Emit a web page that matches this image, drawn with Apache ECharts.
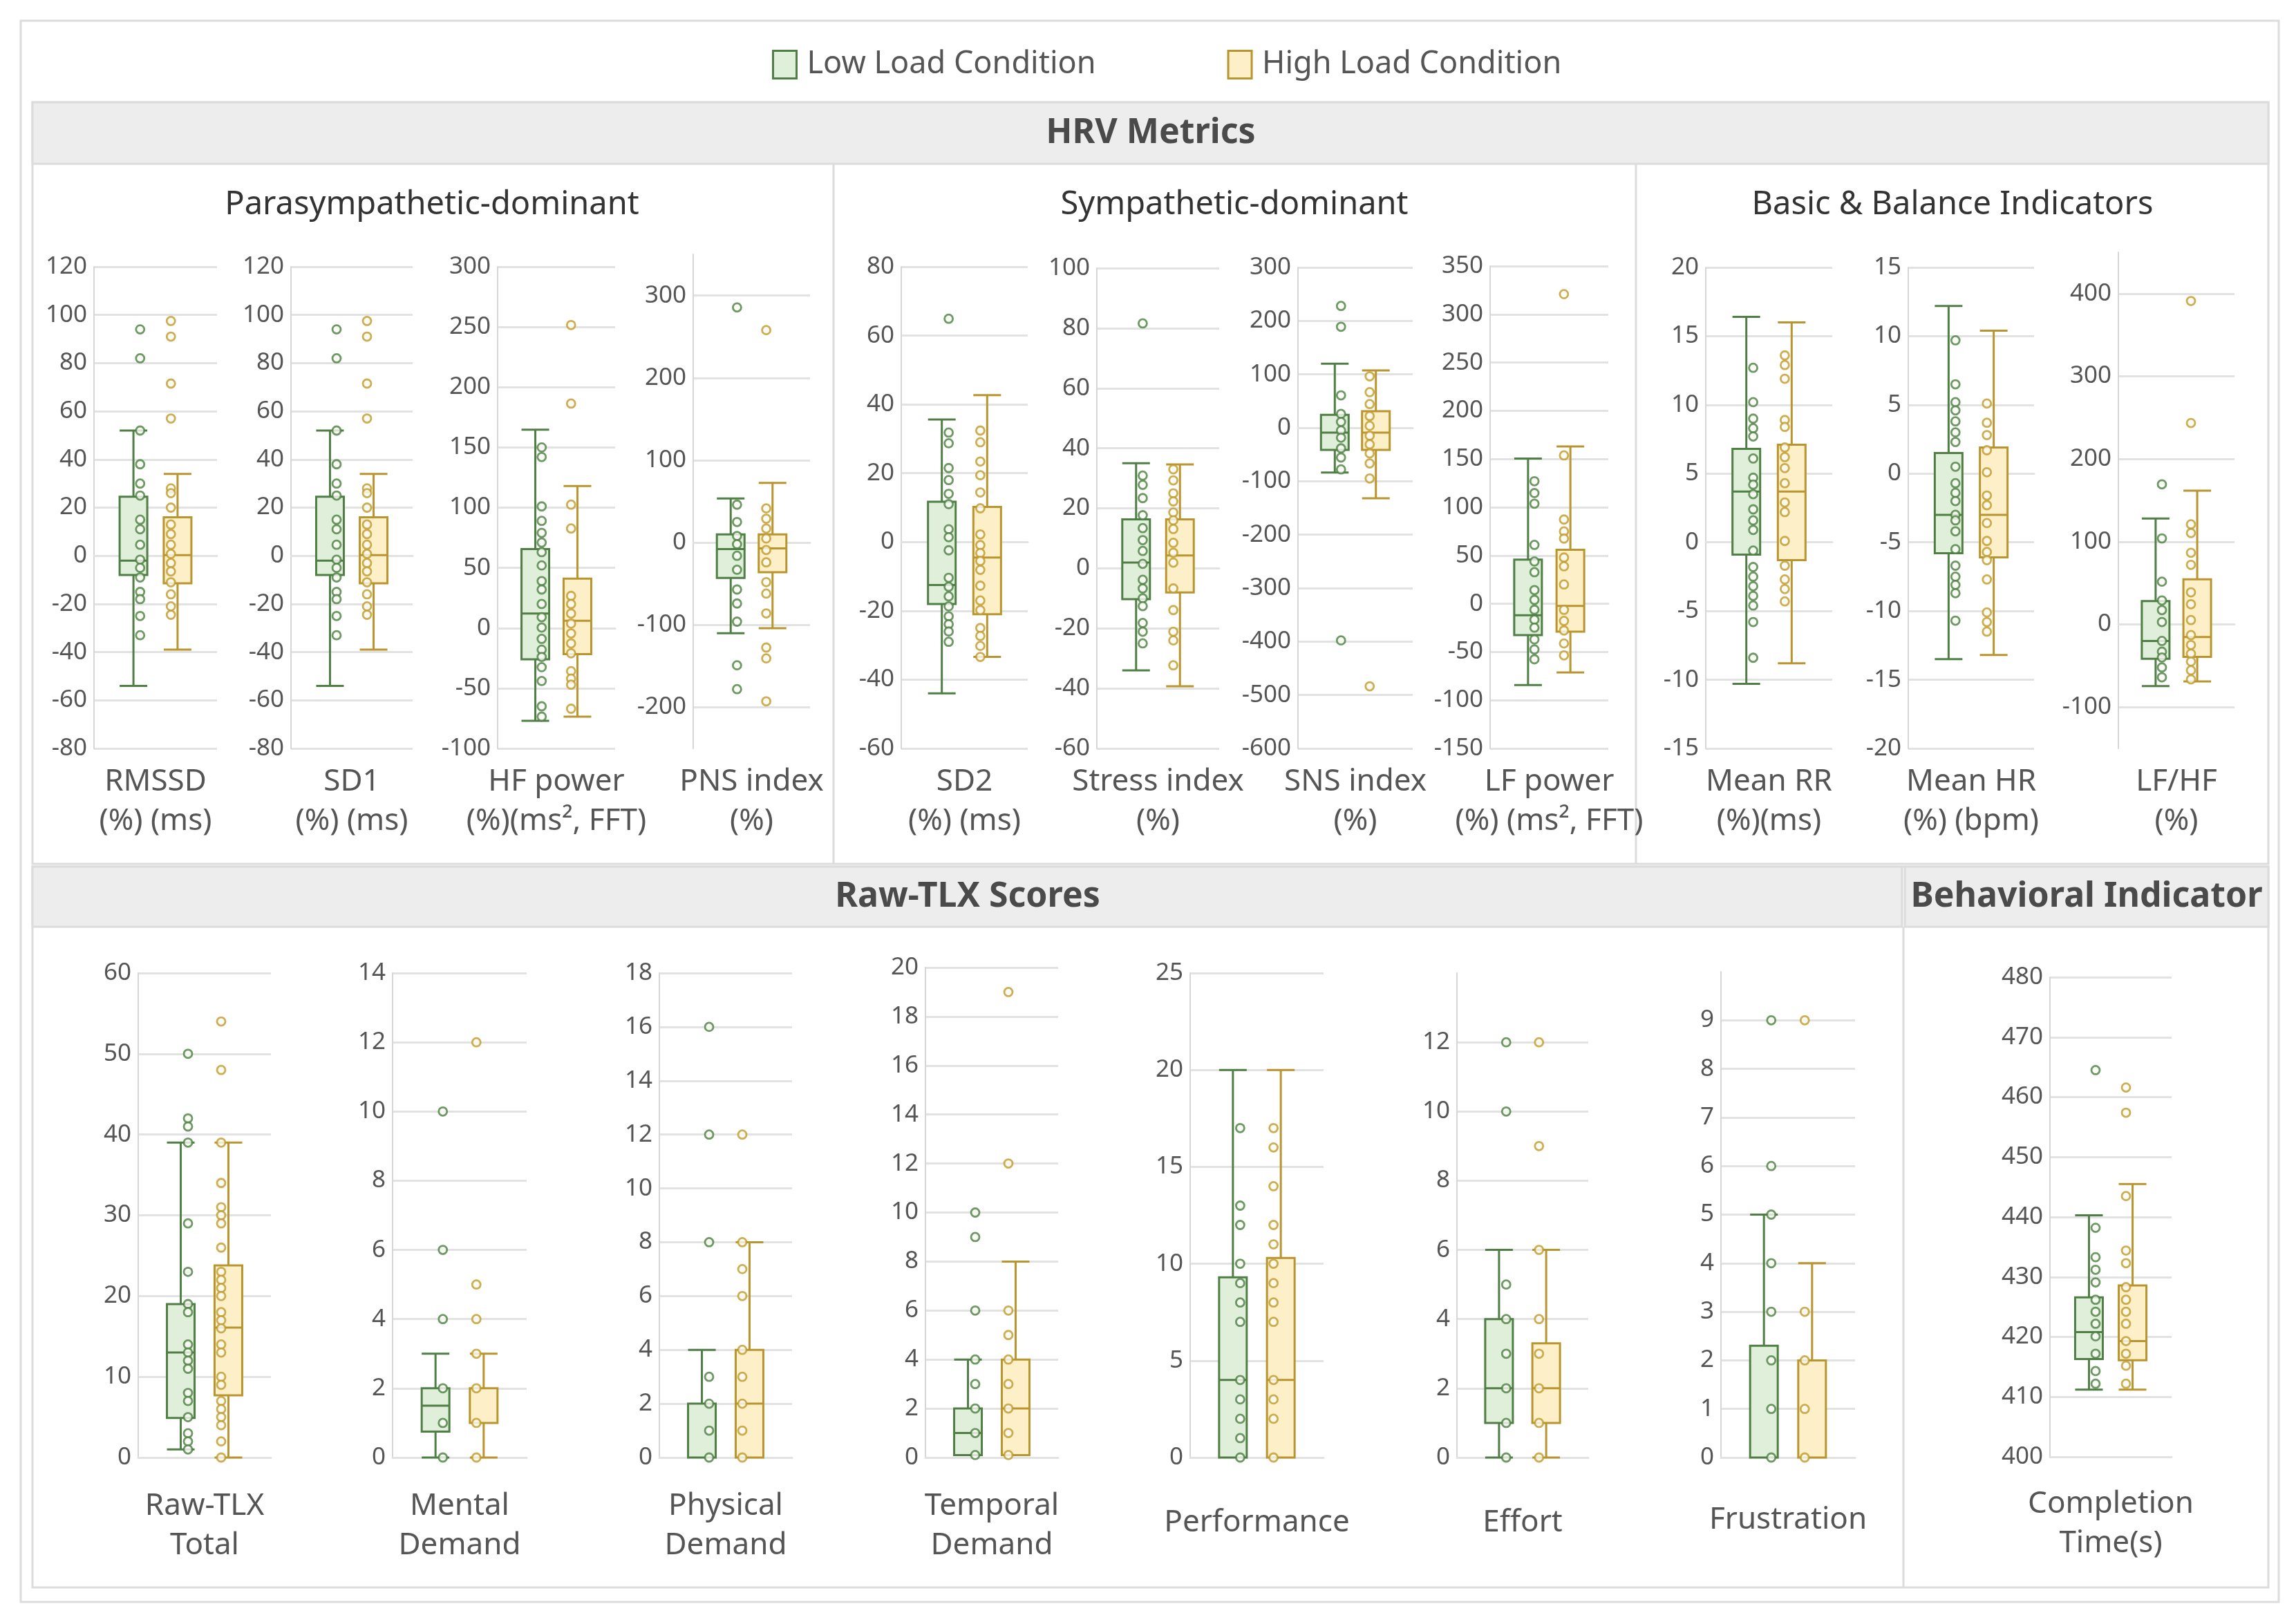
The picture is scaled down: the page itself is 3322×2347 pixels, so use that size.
<!DOCTYPE html>
<html><head><meta charset="utf-8">
<script src="https://cdn.jsdelivr.net/npm/echarts@6/dist/echarts.min.js"></script>
<style>html,body{margin:0;padding:0;background:#fff}#c{width:3322px;height:2347px}</style>
</head><body><div id="c"></div>
<script>
// ---------- DATA ----------
const categories = ['a', 'Low', 'High', 'b'];
const seriesNames = ['Low Load Condition', 'High Load Condition'];
// box stats: [lowWhisker, Q1, median, Q3, highWhisker]
const rmssdLowBox = [-54, -8, -2, 24.5, 52];
const rmssdLowPts = [94, 82, 52, 38, 30, 25, 15, 11, 4.6, -1.6, -5, -9, -15, -18, -25, -33];
const rmssdHighBox = [-39, -11.4, 0.3, 16, 34];
const rmssdHighPts = [97.5, 91, 71.5, 57, 28, 26, 20, 13, 9, 4.6, 0.8, -3, -6.5, -11, -16, -21, -24.5];
const sd1LowBox = [-54, -8, -2, 24.5, 52];
const sd1LowPts = [94, 82, 52, 38, 30, 25, 15, 11, 4.6, -1.6, -5, -9, -15, -18, -25, -33];
const sd1HighBox = [-39, -11.4, 0.3, 16, 34];
const sd1HighPts = [97.5, 91, 71.5, 57, 28, 26, 20, 13, 9, 4.6, 0.8, -3, -6.5, -11, -16, -21, -24.5];
const hfLowBox = [-77, -26, 12, 65.6, 164.7];
const hfLowPts = [150, 142, 101, 89, 79, 71, 63, 52, 39, 32, 20, 9, 0.4, -9, -18, -24, -32.5, -44, -65, -73.6];
const hfHighBox = [-73.6, -21.6, 6, 41, 118];
const hfHighPts = [251.6, 186.4, 102.5, 82.7, 26.7, 20, 12, 3.7, -4.5, -12.8, -21, -35.8, -42, -47, -67];
const pnsLowBox = [-110, -43, -8, 10, 53.6];
const pnsLowPts = [285.5, 46, 25, 8, -2, -16, -33, -57, -74, -96, -149, -178];
const pnsHighBox = [-104, -36, -7, 10, 72.5];
const pnsHighPts = [258, 41.5, 29, 17, 5, -9, -24, -48, -62, -86, -127.5, -140.6, -192.8];
const sd2LowBox = [-44, -18, -12.5, 11.7, 35.6];
const sd2LowPts = [64.9, 31.8, 28.7, 21.5, 18, 14, 11, 3.7, 1.4, -2.4, -10.4, -13, -15.8, -18.7, -21.6, -23.9, -26, -29];
const sd2HighBox = [-33.4, -21, -4.5, 10.2, 42.7];
const sd2HighPts = [32.4, 29, 23.4, 19.4, 14.4, 9.8, 2.2, -0.9, -3.2, -5.5, -8.1, -12.7, -17, -19.8, -25, -27.3, -30.2, -33.4];
const stressLowBox = [-34, -10.3, 1.9, 16.3, 35];
const stressLowPts = [81.6, 30.9, 27.8, 23.4, 17.7, 13.4, 9.4, 5.8, 1.5, -3.8, -6.7, -10, -12.6, -18.2, -21.1, -25];
const stressHighBox = [-39.3, -8, 4.3, 16.3, 34.6];
const stressHighPts = [33, 29.3, 25, 22.3, 18.6, 16, 13.1, 8.5, 5.2, 1.9, -6.7, -13.9, -21.1, -24, -32.3];
const snsLowBox = [-83.7, -41.5, -9, 24.4, 120];
const snsLowPts = [228, 189, 60.7, 26, 11, -5, -18.5, -38.5, -55.6, -77.8, -397.8];
const snsHighBox = [-131.9, -41.5, -9, 31, 107.4];
const snsHighPts = [-483.7, 96.3, 66.7, 44.4, 22, 3.7, -14.8, -31, -48, -66.7, -94.8];
const lfLowBox = [-84.3, -32.6, -12, 45.8, 150.5];
const lfLowPts = [127, 114.7, 103.7, 61, 43.8, 32.7, 14.2, 4, -6.2, -16.5, -24.8, -37, -47.4, -57.6];
const lfHighBox = [-71.2, -28.9, -2.2, 56, 163];
const lfHighPts = [320.9, 153.8, 87.3, 75, 67.6, 47.9, 38.8, 20, -6.3, -17.8, -27.7, -41.2, -53.5];
const rrLowBox = [-10.3, -0.9, 3.7, 6.8, 16.4];
const rrLowPts = [12.7, 10.2, 9, 8.3, 7.7, 6.1, 4.7, 4.2, 3.5, 2.4, 1.6, 0.9, -0.6, -1.8, -2.5, -3.2, -3.9, -4.6, -5.8, -8.4];
const rrHighBox = [-8.8, -1.3, 3.7, 7.1, 16];
const rrHighPts = [13.6, 12.9, 11.9, 8.9, 8.4, 6.9, 6.2, 5.4, 4.3, 2.9, 2.2, 0.1, -1.7, -2.7, -3.4, -4.3];
const hrLowBox = [-13.5, -5.8, -3, 1.5, 12.2];
const hrLowPts = [9.7, 6.5, 5.2, 4.6, 3.8, 3, 2.3, 0.5, -0.7, -1.4, -2, -3, -3.4, -4.2, -5.5, -6.7, -7.5, -8.1, -8.7, -10.7];
const hrHighBox = [-13.2, -6.1, -3, 1.9, 10.4];
const hrHighPts = [5.1, 3.7, 2.8, 1.7, 0.1, -1.6, -2.3, -3.6, -4.9, -5.7, -6.3, -7.7, -10.1, -10.8, -11.5];
const lfhfLowBox = [-74.6, -41.6, -20, 28.2, 128];
const lfhfLowPts = [169.4, 104, 51.7, 29, 17.3, 2.9, -20, -33, -40, -52, -64];
const lfhfHighBox = [-69, -39.2, -15.3, 54.5, 161.7];
const lfhfHighPts = [391, 243.5, 121, 110.5, 86.6, 72, 38.8, 24.4, 5.3, -12.9, -24.9, -35.4, -45, -55.5, -66.5];
const tlxLowBox = [1, 4.9, 13, 19, 39];
const tlxLowPts = [50, 42, 41, 39, 29, 23, 19, 18, 14, 13, 12, 11, 8, 7, 5, 3, 2, 1];
const tlxHighBox = [0, 7.7, 16.1, 23.8, 39];
const tlxHighPts = [54, 48, 39, 34, 31, 30, 29, 26, 23, 22, 21, 20, 18, 17, 16, 14, 13, 10, 9, 7, 6, 5, 4, 2, 0];
const mentalLowBox = [0, 0.75, 1.5, 2, 3];
const mentalLowPts = [10, 6, 4, 2, 1, 0];
const mentalHighBox = [0, 1, 1, 2, 3];
const mentalHighPts = [12, 5, 4, 3, 2, 1, 0];
const physLowBox = [0, 0, 2, 2, 4];
const physLowPts = [16, 12, 8, 3, 2, 1, 0];
const physHighBox = [0, 0, 2, 4, 8];
const physHighPts = [12, 8, 7, 6, 4, 3, 2, 1, 0];
const tempLowBox = [0.1, 0.1, 1, 2, 4];
const tempLowPts = [10, 9, 6, 4, 3, 2, 1, 0.1];
const tempHighBox = [0.1, 0.1, 2, 4, 8];
const tempHighPts = [19, 12, 6, 5, 4, 3, 2, 1, 0.1];
const perfLowBox = [0, 0, 4, 9.3, 20];
const perfLowPts = [17, 13, 12, 10, 9, 8, 7, 4, 3, 2, 1, 0];
const perfHighBox = [0, 0, 4, 10.3, 20];
const perfHighPts = [17, 16, 14, 12, 11, 10, 9, 8, 7, 4, 3, 2, 0];
const effortLowBox = [0, 1, 2, 4, 6];
const effortLowPts = [12, 10, 5, 4, 3, 2, 1, 0];
const effortHighBox = [0, 1, 2, 3.3, 6];
const effortHighPts = [12, 9, 6, 4, 3, 2, 1, 0];
const frusLowBox = [0, 0, 0, 2.3, 5];
const frusLowPts = [9, 6, 5, 4, 3, 2, 1, 0];
const frusHighBox = [0, 0, 0, 2, 4];
const frusHighPts = [9, 3, 2, 1, 0];
const timeLowBox = [411.2, 416.3, 420.8, 426.6, 440.3];
const timeLowPts = [464.5, 438.2, 433.3, 431.2, 429.1, 426.2, 424.2, 422.2, 420.1, 417.2, 414.3, 412.2];
const timeHighBox = [411.2, 416.1, 419.3, 428.6, 445.5];
const timeHighPts = [461.6, 457.4, 443.5, 434.4, 432.3, 428.3, 426.2, 424.2, 422.2, 419.3, 417.2, 415.2, 412.2];

// ---------- LAYOUT ----------
const FONT = '"Noto Sans", "DejaVu Sans", sans-serif';
const GREEN = {fill: '#e0efd9', border: '#4f7f45', pt: '#4a8040'};
const YEL = {fill: '#fdf0c8', border: '#b8952e', pt: '#c09a28'};
const HB = 1083, TB = 2109;
const panels = [
  {name: 'RMSSD\n(%) (ms)', l: 136, r: 314, t: 386, b: HB, min: -80, max: 120, gmin: -80, gmax: 120, iv: 20, d: [rmssdLowBox, rmssdLowPts, rmssdHighBox, rmssdHighPts], gap: 20},
  {name: 'SD1\n(%) (ms)', l: 421, r: 597, t: 386, b: HB, min: -80, max: 120, gmin: -80, gmax: 120, iv: 20, d: [sd1LowBox, sd1LowPts, sd1HighBox, sd1HighPts], gap: 20},
  {name: 'HF power\n(%)(ms², FFT)', l: 720, r: 890, t: 386, b: HB, min: -100, max: 300, gmin: -100, gmax: 300, iv: 50, d: [hfLowBox, hfLowPts, hfHighBox, hfHighPts], gap: 20},
  {name: 'PNS index\n(%)', l: 1003, r: 1172, t: 368, b: HB, min: -250, max: 350, gmin: -200, gmax: 300, iv: 100, d: [pnsLowBox, pnsLowPts, pnsHighBox, pnsHighPts], gap: 20},
  {name: 'SD2\n(%) (ms)', l: 1304, r: 1487, t: 386, b: HB, min: -60, max: 80, gmin: -60, gmax: 80, iv: 20, d: [sd2LowBox, sd2LowPts, sd2HighBox, sd2HighPts], gap: 20},
  {name: 'Stress index\n(%)', l: 1587, r: 1764, t: 388, b: HB, min: -60, max: 100, gmin: -60, gmax: 100, iv: 20, d: [stressLowBox, stressLowPts, stressHighBox, stressHighPts], gap: 20},
  {name: 'SNS index\n(%)', l: 1878, r: 2044, t: 387, b: HB, min: -600, max: 300, gmin: -600, gmax: 300, iv: 100, d: [snsLowBox, snsLowPts, snsHighBox, snsHighPts], gap: 20},
  {name: 'LF power\n(%) (ms², FFT)', l: 2156, r: 2327, t: 385, b: HB, min: -150, max: 350, gmin: -150, gmax: 350, iv: 50, d: [lfLowBox, lfLowPts, lfHighBox, lfHighPts], gap: 20},
  {name: 'Mean RR\n(%)(ms)', l: 2468, r: 2651, t: 387, b: HB, min: -15, max: 20, gmin: -15, gmax: 20, iv: 5, d: [rrLowBox, rrLowPts, rrHighBox, rrHighPts], gap: 20},
  {name: 'Mean HR\n(%) (bpm)', l: 2761, r: 2943, t: 387, b: HB, min: -20, max: 15, gmin: -20, gmax: 15, iv: 5, d: [hrLowBox, hrLowPts, hrHighBox, hrHighPts], gap: 20},
  {name: 'LF/HF\n(%)', l: 3065, r: 3233, t: 365, b: HB, min: -150, max: 450, gmin: -100, gmax: 400, iv: 100, d: [lfhfLowBox, lfhfLowPts, lfhfHighBox, lfhfHighPts], gap: 20},
  {name: 'Raw-TLX\nTotal', l: 200, r: 392, t: 1408, b: TB, min: 0, max: 60, gmin: 0, gmax: 60, iv: 10, d: [tlxLowBox, tlxLowPts, tlxHighBox, tlxHighPts], gap: 42},
  {name: 'Mental\nDemand', l: 568, r: 762, t: 1408, b: TB, min: 0, max: 14, gmin: 0, gmax: 14, iv: 2, d: [mentalLowBox, mentalLowPts, mentalHighBox, mentalHighPts], gap: 42},
  {name: 'Physical\nDemand', l: 954, r: 1146, t: 1408, b: TB, min: 0, max: 18, gmin: 0, gmax: 18, iv: 2, d: [physLowBox, physLowPts, physHighBox, physHighPts], gap: 42},
  {name: 'Temporal\nDemand', l: 1339, r: 1531, t: 1400, b: TB, min: 0, max: 20, gmin: 0, gmax: 20, iv: 2, d: [tempLowBox, tempLowPts, tempHighBox, tempHighPts], gap: 42},
  {name: 'Performance', l: 1722, r: 1915, t: 1408, b: TB, min: 0, max: 25, gmin: 0, gmax: 25, iv: 5, d: [perfLowBox, perfLowPts, perfHighBox, perfHighPts], gap: 66},
  {name: 'Effort', l: 2108, r: 2298, t: 1408, b: TB, min: 0, max: 14, gmin: 0, gmax: 12, iv: 2, d: [effortLowBox, effortLowPts, effortHighBox, effortHighPts], gap: 66},
  {name: 'Frustration', l: 2490, r: 2684, t: 1406, b: TB, min: 0, max: 10, gmin: 0, gmax: 9, iv: 1, d: [frusLowBox, frusLowPts, frusHighBox, frusHighPts], gap: 62},
  {name: 'Completion\nTime(s)', l: 2966, r: 3142, t: 1414, b: 2108, min: 400, max: 480, gmin: 400, gmax: 480, iv: 10, d: [timeLowBox, timeLowPts, timeHighBox, timeHighPts], gap: 40}
];

const grid = [], xAxis = [], yAxis = [], series = [];
panels.forEach((p, i) => {
  const h = p.b - p.t;
  const tB = p.t + (p.max - p.gmax) / (p.max - p.min) * h;
  const bB = p.t + (p.max - p.gmin) / (p.max - p.min) * h;
  const ga = grid.length;
  grid.push({left: p.l, width: p.r - p.l, top: p.t, height: h});
  grid.push({left: p.l, width: p.r - p.l, top: tB, height: bB - tB});
  xAxis.push({gridIndex: ga, type: 'category', data: categories, boundaryGap: true,
    axisTick: {show: false}, axisLabel: {show: false},
    axisLine: {show: true, lineStyle: {color: '#e2e2e2', width: 3}},
    name: p.name, nameLocation: 'middle', nameGap: p.gap,
    nameTextStyle: {fontSize: 44, color: '#555', lineHeight: 57, fontFamily: FONT, verticalAlign: 'top'}});
  xAxis.push({gridIndex: ga + 1, type: 'category', data: categories, show: false});
  yAxis.push({gridIndex: ga, type: 'value', min: p.min, max: p.max,
    axisLine: {show: true, lineStyle: {color: '#d6d6d6', width: 2}}, axisTick: {show: false},
    axisLabel: {show: false}, splitLine: {show: false}});
  yAxis.push({gridIndex: ga + 1, type: 'value', min: p.gmin, max: p.gmax, interval: p.iv,
    axisLine: {show: false}, axisTick: {show: false},
    axisLabel: {fontSize: 35, color: '#555', fontFamily: FONT, margin: 10},
    splitLine: {show: true, lineStyle: {color: '#e2e2e2', width: 3}}});
  const parts = [[p.d[0], p.d[1], 'Low', GREEN, 0], [p.d[2], p.d[3], 'High', YEL, 1]];
  parts.forEach(([box, pts, cat, col, k]) => {
    series.push({type: 'boxplot', name: seriesNames[k], xAxisIndex: ga, yAxisIndex: ga,
      data: [[cat].concat(box)], encode: {x: 0, y: [1, 2, 3, 4, 5]}, boxWidth: [40, 40],
      itemStyle: {color: col.fill, borderColor: col.border, borderWidth: 3},
      emphasis: {disabled: true}, silent: true, z: 2});
    series.push({type: 'scatter', name: seriesNames[k] + ' pts', xAxisIndex: ga, yAxisIndex: ga,
      data: pts.map(v => [cat, v]), symbol: 'circle', symbolSize: 12,
      itemStyle: {color: '#fbfbf5', borderColor: col.pt, borderWidth: 2.8}, silent: true, z: 5});
  });
});

const lineC = '#dcdcdc';
const graphic = [
  {type: 'rect', shape: {x: 30, y: 30, width: 3267, height: 2288}, style: {fill: 'none', stroke: lineC, lineWidth: 3}, z: -10},
  {type: 'rect', shape: {x: 47, y: 148, width: 3235, height: 1102}, style: {fill: 'none', stroke: lineC, lineWidth: 3}, z: -10},
  {type: 'rect', shape: {x: 47, y: 148, width: 3235, height: 89}, style: {fill: '#ededed', stroke: lineC, lineWidth: 3}, z: -9},
  {type: 'rect', shape: {x: 47, y: 1254, width: 3235, height: 1043}, style: {fill: 'none', stroke: lineC, lineWidth: 3}, z: -10},
  {type: 'rect', shape: {x: 47, y: 1254, width: 2705, height: 87}, style: {fill: '#ededed', stroke: lineC, lineWidth: 3}, z: -9},
  {type: 'rect', shape: {x: 2756, y: 1254, width: 526, height: 87}, style: {fill: '#ededed', stroke: lineC, lineWidth: 3}, z: -9},
  {type: 'line', shape: {x1: 1206, y1: 237, x2: 1206, y2: 1250}, style: {stroke: lineC, lineWidth: 3}, z: -9},
  {type: 'line', shape: {x1: 2367, y1: 237, x2: 2367, y2: 1250}, style: {stroke: lineC, lineWidth: 3}, z: -9},
  {type: 'line', shape: {x1: 2754, y1: 1341, x2: 2754, y2: 2297}, style: {stroke: lineC, lineWidth: 3}, z: -9},
  {type: 'text', x: 1665, y: 193, style: {text: 'HRV Metrics', fontSize: 50, fontWeight: 'bold', fill: '#4a4a4a', fontFamily: FONT, textAlign: 'center', textVerticalAlign: 'middle'}},
  {type: 'text', x: 1400, y: 1298, style: {text: 'Raw-TLX Scores', fontSize: 50, fontWeight: 'bold', fill: '#4a4a4a', fontFamily: FONT, textAlign: 'center', textVerticalAlign: 'middle'}},
  {type: 'text', x: 3019, y: 1298, style: {text: 'Behavioral Indicator', fontSize: 50, fontWeight: 'bold', fill: '#4a4a4a', fontFamily: FONT, textAlign: 'center', textVerticalAlign: 'middle'}},
  {type: 'text', x: 625, y: 297, style: {text: 'Parasympathetic-dominant', fontSize: 47, fill: '#333', fontFamily: FONT, textAlign: 'center', textVerticalAlign: 'middle'}},
  {type: 'text', x: 1786, y: 297, style: {text: 'Sympathetic-dominant', fontSize: 47, fill: '#333', fontFamily: FONT, textAlign: 'center', textVerticalAlign: 'middle'}},
  {type: 'text', x: 2825, y: 297, style: {text: 'Basic & Balance Indicators', fontSize: 47, fill: '#333', fontFamily: FONT, textAlign: 'center', textVerticalAlign: 'middle'}}
];

const chart = echarts.init(document.getElementById('c'), null, {renderer: 'canvas'});
chart.setOption({
  backgroundColor: '#fff',
  animation: false,
  textStyle: {fontFamily: FONT},
  legend: {
    left: 1112, top: 66, itemWidth: 34, itemHeight: 40, itemGap: 190, icon: 'rect',
    textStyle: {fontSize: 45, color: '#555', fontFamily: FONT, padding: [0, 0, 0, 10]},
    data: [
      {name: seriesNames[0], itemStyle: {color: GREEN.fill, borderColor: GREEN.border, borderWidth: 3}},
      {name: seriesNames[1], itemStyle: {color: YEL.fill, borderColor: YEL.border, borderWidth: 3}}
    ],
    selectedMode: false
  },
  grid, xAxis, yAxis, series, graphic
});
</script></body></html>
